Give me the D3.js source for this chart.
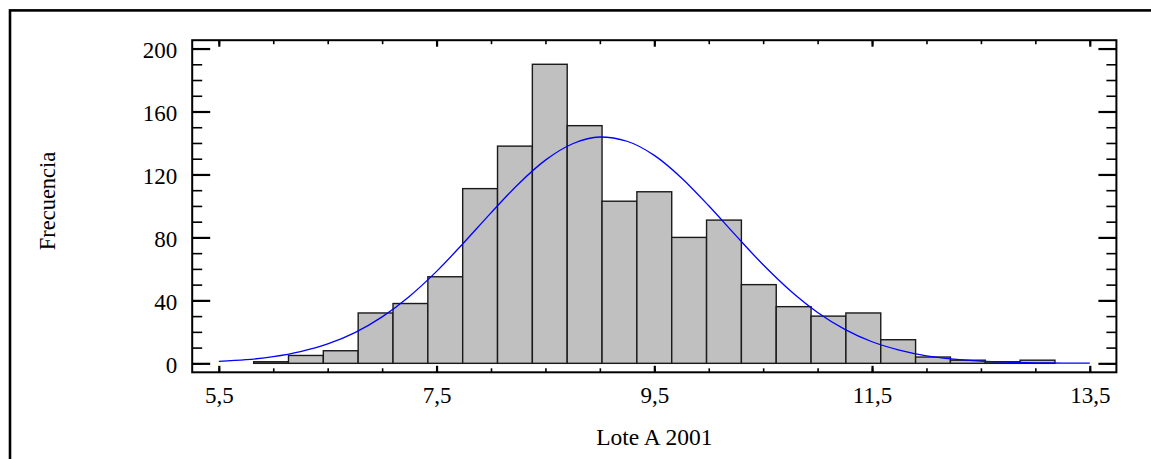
<!DOCTYPE html>
<html><head><meta charset="utf-8">
<script src="https://cdn.jsdelivr.net/npm/d3@7"></script>
<style>html,body{margin:0;padding:0;background:#fff;overflow:hidden}</style>
</head><body><svg id="c" width="1151" height="459"></svg>
<script>
// ---- data ----
const binEdges = [5.50,5.82,6.14,6.46,6.78,7.10,7.42,7.74,8.06,8.38,8.70,9.02,9.34,9.66,9.98,10.30,10.62,10.94,11.26,11.58,11.90,12.22,12.54,12.86,13.18,13.50];
const counts   = [0,1,5,8,32,38,55,111,138,190,151,103,109,80,91,50,36,30,32,15,4,2,1,2,0];
const curveX = [5.5,5.75,6,6.25,6.5,6.75,7,7.25,7.5,7.75,8,8.25,8.5,8.75,9,9.25,9.5,9.75,10,10.25,10.5,10.75,11,11.25,11.5,11.75,12,12.25,12.5,12.75,13,13.25,13.5];
const curveY = [1.2,2.3,4.2,7.4,12.3,19.5,29.5,42.5,58.4,76.6,95.6,113.8,129.1,139.5,143.8,141.1,132.1,117.8,100.1,81.1,62.6,46.1,32.3,21.6,13.7,8.4,4.8,2.7,1.4,0.7,0.3,0.15,0.07];
const xMajorTicks = [5.5,7.5,9.5,11.5,13.5];
const xTickLabels = ["5,5","7,5","9,5","11,5","13,5"];
const xMinorTicks = [5.5,6,6.5,7,7.5,8,8.5,9,9.5,10,10.5,11,11.5,12,12.5,13,13.5];
const yMajorTicks = [0,40,80,120,160,200];
const yMinorTicks = [0,10,20,30,40,50,60,70,80,90,100,110,120,130,140,150,160,170,180,190,200];
const xTitle = "Lote A 2001";
const yTitle = "Frecuencia";

// ---- layout ----
const L = 192.2, R = 1116.4, T = 40.2, B = 372.3;
const FONT = "'Liberation Serif','Times New Roman',Times,serif";
const svg = d3.select("#c");

// outer frame
svg.append("rect").attr("x",10).attr("y",10.4).attr("width",1200).attr("height",500)
  .attr("fill","none").attr("stroke","#000").attr("stroke-width",2.6);

const x = d3.scaleLinear().domain([5.25,13.75]).range([L-0.6,R+0.6]);
const y = d3.scaleLinear().domain([-5.7,205.3]).range([B,T]);

// bars
const bins = counts.map((c,i)=>({x0:binEdges[i],x1:binEdges[i+1],c}));
svg.append("g").selectAll("rect").data(bins.filter(d=>d.c>0)).join("rect")
  .attr("x",d=>x(d.x0)).attr("width",d=>x(d.x1)-x(d.x0))
  .attr("y",d=>y(d.c)).attr("height",d=>y(0)-y(d.c))
  .attr("fill","#c0c0c0").attr("stroke","#1a1a1a").attr("stroke-width",1.4);

// fitted curve
const line = d3.line().x((d,i)=>x(curveX[i])).y(d=>y(d)).curve(d3.curveMonotoneX);
svg.append("path").attr("d",line(curveY)).attr("fill","none")
  .attr("stroke","#0000ff").attr("stroke-width",1.3);

// plot frame
svg.append("rect").attr("x",L).attr("y",T).attr("width",R-L).attr("height",B-T)
  .attr("fill","none").attr("stroke","#000").attr("stroke-width",2);

function styleAxis(g, w){
  g.select(".domain").remove();
  g.selectAll(".tick line").attr("stroke","#000").attr("stroke-width",w);
  g.selectAll("text").attr("font-family",FONT).attr("font-size",23).attr("fill","#000");
}
// bottom
svg.append("g").attr("transform",`translate(0,${B})`)
  .call(d3.axisBottom(x).tickValues(xMinorTicks).tickSize(-4).tickFormat(""))
  .call(g=>styleAxis(g,1.6));
svg.append("g").attr("transform",`translate(0,${B})`)
  .call(d3.axisBottom(x).tickValues(xMajorTicks).tickSize(-6.5).tickPadding(14.4)
    .tickFormat((d,i)=>xTickLabels[i]))
  .call(g=>styleAxis(g,2.2));
// top
svg.append("g").attr("transform",`translate(0,${T})`)
  .call(d3.axisTop(x).tickValues(xMinorTicks).tickSize(-4).tickFormat(""))
  .call(g=>styleAxis(g,1.6));
svg.append("g").attr("transform",`translate(0,${T})`)
  .call(d3.axisTop(x).tickValues(xMajorTicks).tickSize(-6.5).tickFormat(""))
  .call(g=>styleAxis(g,2.2));
// left
svg.append("g").attr("transform",`translate(${L},0)`)
  .call(d3.axisLeft(y).tickValues(yMinorTicks).tickSize(-10).tickFormat(""))
  .call(g=>styleAxis(g,1.6));
svg.append("g").attr("transform",`translate(${L},0)`)
  .call(d3.axisLeft(y).tickValues(yMajorTicks).tickSize(-18).tickPadding(15).tickFormat(d3.format("d")))
  .call(g=>{styleAxis(g,2.2); g.selectAll("text").attr("dy","0.39em");});
// right
svg.append("g").attr("transform",`translate(${R},0)`)
  .call(d3.axisRight(y).tickValues(yMinorTicks).tickSize(-10).tickFormat(""))
  .call(g=>styleAxis(g,1.6));
svg.append("g").attr("transform",`translate(${R},0)`)
  .call(d3.axisRight(y).tickValues(yMajorTicks).tickSize(-18).tickFormat(""))
  .call(g=>styleAxis(g,2.2));

// titles
svg.append("text").attr("x",(L+R)/2).attr("y",444.5).attr("text-anchor","middle")
  .attr("font-family",FONT).attr("font-size",23.5).text(xTitle);
svg.append("text").attr("transform","translate(55,201) rotate(-90)").attr("text-anchor","middle")
  .attr("font-family",FONT).attr("font-size",22.5).text(yTitle);
</script></body></html>
